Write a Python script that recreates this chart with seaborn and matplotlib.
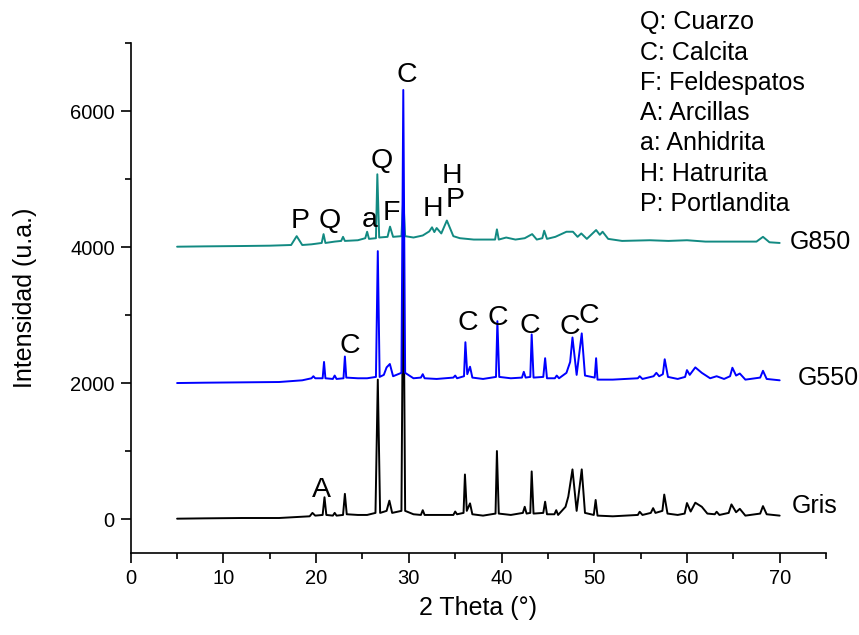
import matplotlib
matplotlib.use("Agg")
import matplotlib.pyplot as plt
import seaborn as sns
import pandas as pd
from matplotlib.ticker import MultipleLocator

# ---------------- data ----------------
gris_x = [5, 8, 12, 16, 19.3, 19.6, 19.9, 20.7, 20.9, 21.1, 21.8, 22.0, 22.2, 22.9, 23.1, 23.3,
          24.5, 25.5, 26.4, 26.65, 26.9, 27.6, 27.9, 28.2, 29.2, 29.4, 29.6, 30.5, 31.3, 31.5,
          31.7, 32.9, 34.8, 35.0, 35.2, 35.9, 36.05, 36.25, 36.6, 36.85, 38.0, 39.35, 39.5, 39.7,
          41.0, 42.3, 42.5, 42.7, 43.1, 43.25, 43.45, 44.5, 44.7, 44.9, 45.7, 45.9, 46.1, 46.9,
          47.2, 47.65, 48.1, 48.65, 49.0, 49.95, 50.15, 50.35, 52.0, 54.7, 54.9, 55.2, 56.1, 56.35,
          56.6, 57.35, 57.55, 57.9, 59.0, 59.75, 60.0, 60.4, 60.9, 61.6, 62.2, 63.0, 63.2, 63.5,
          64.5, 64.8, 65.3, 65.7, 66.3, 67.9, 68.2, 68.6, 70.0]
gris_y = [5, 10, 15, 15, 40, 90, 50, 60, 320, 60, 50, 90, 50, 60, 370, 70,
          60, 60, 90, 2050, 90, 120, 270, 90, 120, 4100, 120, 70, 60, 130,
          60, 60, 60, 110, 70, 90, 655, 120, 230, 70, 50, 80, 1000, 80,
          60, 90, 180, 80, 90, 700, 80, 90, 255, 70, 70, 130, 60, 180,
          330, 730, 120, 730, 90, 60, 280, 50, 40, 60, 107, 60, 90, 160,
          90, 120, 360, 80, 60, 80, 235, 110, 240, 180, 80, 70, 107, 60,
          90, 215, 100, 150, 50, 80, 190, 70, 50]

g550_x = [5, 8, 12, 16, 18.5, 19.5, 19.7, 19.9, 20.7, 20.85, 21.0, 21.8, 22.0, 22.2, 22.95, 23.1,
          23.25, 24.5, 25.5, 26.45, 26.65, 26.85, 27.3, 27.6, 27.95, 28.3, 29.2, 29.4, 29.6, 30.5,
          31.3, 31.5, 31.7, 33.0, 34.8, 35.0, 35.2, 35.95, 36.1, 36.3, 36.6, 36.85, 38.0, 39.4,
          39.55, 39.75, 41.0, 42.2, 42.4, 42.6, 43.1, 43.25, 43.45, 44.5, 44.7, 44.9, 45.75, 45.95,
          46.2, 47.0, 47.4, 47.65, 48.1, 48.65, 49.0, 50.05, 50.2, 50.35, 52.0, 54.7, 54.9, 55.2,
          56.4, 56.7, 57.0, 57.4, 57.6, 57.95, 59.0, 59.8, 60.0, 60.3, 60.9, 61.6, 62.5, 63.2,
          64.0, 64.65, 64.9, 65.3, 65.7, 66.3, 67.9, 68.2, 68.6, 70.0]
g550_y = [2000, 2005, 2010, 2015, 2040, 2070, 2100, 2070, 2070, 2310, 2070, 2060, 2110, 2060, 2070, 2390,
          2080, 2070, 2070, 2090, 3940, 2090, 2120, 2230, 2280, 2100, 2150, 6310, 2150, 2070,
          2080, 2130, 2070, 2060, 2080, 2110, 2070, 2100, 2600, 2130, 2240, 2080, 2060, 2090,
          2910, 2090, 2070, 2080, 2165, 2080, 2090, 2715, 2080, 2090, 2365, 2070, 2070, 2110,
          2070, 2150, 2310, 2670, 2120, 2730, 2110, 2080, 2365, 2050, 2050, 2070, 2100, 2060,
          2100, 2150, 2100, 2130, 2350, 2090, 2060, 2090, 2190, 2120, 2230, 2150, 2070, 2100,
          2060, 2100, 2225, 2110, 2140, 2050, 2080, 2180, 2060, 2040]

g850_x = [5, 8, 12, 15, 17.3, 17.9, 18.5, 19.5, 20.6, 20.8, 21.0, 22.0, 22.7, 22.9, 23.1, 24.5,
          25.3, 25.5, 25.7, 26.45, 26.6, 26.8, 27.7, 27.97, 28.3, 29.2, 29.4, 29.6, 30.5, 31.5,
          32.2, 32.5, 32.75, 33.0, 33.5, 34.1, 34.8, 35.5, 37.0, 39.3, 39.5, 39.7, 40.5, 41.5,
          42.5, 43.3, 43.8, 44.4, 44.6, 44.9, 45.8, 47.0, 47.7, 48.2, 48.6, 49.2, 50.2, 50.6,
          50.9, 51.5, 53.0, 56.0, 58.0, 60.0, 62.0, 65.0, 67.5, 68.2, 68.9, 70.0]
g850_y = [4005, 4010, 4015, 4020, 4030, 4160, 4030, 4040, 4060, 4190, 4060, 4080, 4090, 4150, 4090, 4100,
          4130, 4225, 4120, 4130, 5070, 4140, 4150, 4300, 4150, 4160, 4720, 4160, 4140, 4170,
          4230, 4290, 4220, 4280, 4200, 4390, 4160, 4130, 4110, 4110, 4260, 4110, 4140, 4110,
          4130, 4190, 4110, 4130, 4240, 4120, 4150, 4225, 4225, 4150, 4200, 4120, 4250, 4180,
          4225, 4120, 4090, 4100, 4090, 4100, 4080, 4080, 4080, 4150, 4070, 4060]

series_names = ["Gris", "G850", "G550"]
series_colors = ["#000000", "#128a82", "#0000ff"]

# peak annotations (label, x, y)
peak_labels = ["A", "C", "C", "C", "C", "C", "C", "C", "P", "Q", "a", "Q", "F", "H", "P", "H"]
peak_x = [20.55, 23.66, 36.4, 39.6, 43.07, 47.4, 49.36, 29.77, 18.26, 21.5, 25.74, 27.08, 28.15, 32.65, 35.0, 34.7]
peak_y = [324, 2436, 2779, 2853, 2731, 2716, 2887, 6431, 4275, 4275, 4290, 5157, 4397, 4456, 4593, 4936]

legend_lines = ["Q: Cuarzo", "C: Calcita", "F: Feldespatos", "A: Arcillas",
                "a: Anhidrita", "H: Hatrurita", "P: Portlandita"]

# ---------------- plot ----------------
sns.set_style("ticks")
plt.rcParams["font.family"] = ["Liberation Sans", "DejaVu Sans"]
plt.rcParams.update({
    "text.color": "black", "axes.labelcolor": "black", "axes.edgecolor": "black",
    "xtick.color": "black", "ytick.color": "black",
})

fig = plt.figure(figsize=(8.59, 6.35), dpi=100)
ax = fig.add_axes([0.1522, 0.1291, 0.8094, 0.8031])

data = {
    "Gris": (gris_x, gris_y),
    "G850": (g850_x, g850_y),
    "G550": (g550_x, g550_y),
}
for name, col in zip(series_names, series_colors):
    xs, ys = data[name]
    df = pd.DataFrame({"x": xs, "y": ys})
    sns.lineplot(data=df, x="x", y="y", color=col, linewidth=1.4, ax=ax,
                 estimator=None, sort=False)

ax.set_xlim(0, 75)
ax.set_ylim(-500, 7000)
ax.xaxis.set_major_locator(MultipleLocator(10))
ax.xaxis.set_minor_locator(MultipleLocator(5))
ax.yaxis.set_major_locator(MultipleLocator(2000))
ax.yaxis.set_minor_locator(MultipleLocator(1000))
sns.despine(ax=ax)
for s in ["left", "bottom"]:
    ax.spines[s].set_linewidth(1.2)
    ax.spines[s].set_color("black")
ax.tick_params(which="major", direction="out", length=7.5, width=1.2,
               labelsize=14.5, pad=4, colors="black")
ax.tick_params(which="minor", direction="out", length=4.5, width=1.2, colors="black")

ax.set_xlabel("2 Theta (°)", fontsize=18, color="black")
ax.set_ylabel("Intensidad (u.a.)", fontsize=18, color="black")
ax.yaxis.set_label_coords(-0.135, 0.5)
ax.xaxis.set_label_coords(0.5, -0.085)

for lab, px, py in zip(peak_labels, peak_x, peak_y):
    ax.text(px, py, lab, fontsize=20.5, ha="center", va="baseline", color="black")

# series names
ax.text(71.1, 3970, "G850", fontsize=18, ha="left", va="baseline", color="black")
ax.text(71.9, 1970, "G550", fontsize=18, ha="left", va="baseline", color="black")
ax.text(71.3, 84, "Gris", fontsize=18, ha="left", va="baseline", color="black")

# legend block
for i, line in enumerate(legend_lines):
    fig.text(640 / 859, 1 - (29.5 + 30.2 * i) / 635, line, fontsize=18,
             ha="left", va="baseline", color="black")

fig.savefig("out.png", dpi=100)
